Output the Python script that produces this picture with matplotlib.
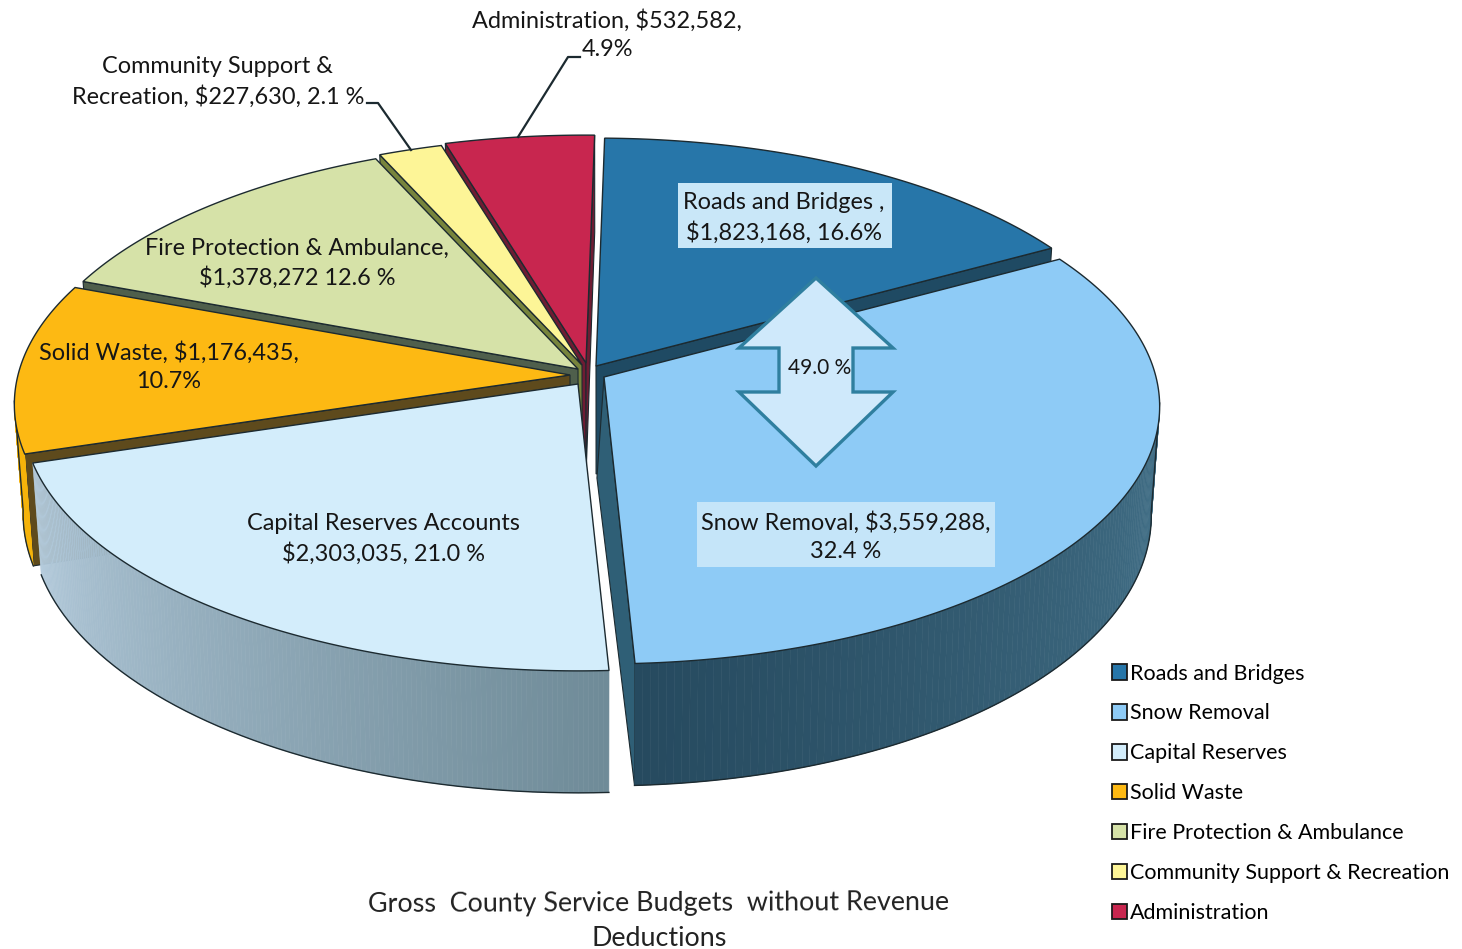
import numpy as np
import matplotlib
matplotlib.use('Agg')
import matplotlib.pyplot as plt
from matplotlib.collections import PolyCollection
from matplotlib.colors import to_rgb
from matplotlib.patches import Patch, Polygon, Rectangle

plt.rcParams['font.family'] = ['Lato', 'DejaVu Sans']

# --- Data ---
names = ["Roads and Bridges", "Snow Removal", "Capital Reserves", "Solid Waste",
         "Fire Protection & Ambulance", "Community Support & Recreation", "Administration"]
budgets = np.array([1823168, 3559288, 2303035, 1176435, 1378272, 227630, 532582])

# --- Look of the tilted pie ---
top_colors = ["#2776a9", "#8ecbf6", "#d3edfb", "#fdb913", "#d6e2a8", "#fdf597", "#c8264f"]
face_colors = ["#1f4a63", "#2f5f76", "#8ba5b5", "#5e4a1c", "#4f5f4c", "#77843c", "#6e1c33"]
wall_start = ["#1f4a63", "#44728a", "#6f8b98", "#f5b30a", "#8e9a66", "#b0a860", "#7a1c38"]
wall_end = ["#1f4a63", "#264a5f", "#b4cbdc", "#f5b30a", "#8e9a66", "#b0a860", "#7a1c38"]
apex = [(596, 366), (604, 377), (578, 384), (570, 375), (578, 369), (582, 365), (586, 363)]
inner_shift = [(0, 0), (-7, -7), (0, 0), (0, 0), (0, 0), (0, 0), (0, 0)]
draw_order = [6, 5, 4, 0, 3, 1, 2]

A, B, K = 552, 254, 0.1146   # ellipse half axes and perspective
DEPTH = 108
VANISH_X, SHRINK = 600, 0.985
START_DEG = 1.0

ink = "#1c2a30"


def top_point(theta, r, ctr):
    u, v = r * np.sin(theta), r * np.cos(theta)
    d = 1 + K * v
    return np.column_stack([ctr[0] + A * u / d, ctr[1] - B * v / d]), v


def drop(pts, v):
    x = VANISH_X + (pts[:, 0] - VANISH_X) * SHRINK
    y = pts[:, 1] + DEPTH / (1 + K * v)
    return np.column_stack([x, y])


fig = plt.figure(figsize=(14.62, 9.49), dpi=100, facecolor="white")
ax = fig.add_axes([0, 0, 1, 1])
ax.set_xlim(0, 1462)
ax.set_ylim(949, 0)
ax.axis("off")

edges = np.radians(START_DEG + 360 * np.concatenate([[0], np.cumsum(budgets)]) / budgets.sum())

for i in draw_order:
    ctr = apex[i]
    z = 2 + draw_order.index(i)
    th = np.linspace(edges[i], edges[i + 1], 160)
    rim, v = top_point(th, 1.0, ctr)
    low = drop(rim, v)
    inner_top = np.array(ctr, dtype=float)
    inner_low = drop(inner_top[None, :], np.zeros(1))[0] + np.array(inner_shift[i])

    # radial cut faces, only those turned to the viewer
    if np.sin(th[0]) < 0:
        ax.add_patch(Polygon([inner_top, rim[0], low[0], inner_low], closed=True,
                             fc=face_colors[i], ec=ink, lw=0.8, zorder=z))
    if np.sin(th[-1]) > 0:
        ax.add_patch(Polygon([inner_top, rim[-1], low[-1], inner_low], closed=True,
                             fc=face_colors[i], ec=ink, lw=0.8, zorder=z))

    # outer wall, shaded along the rim, front part only
    idx = np.where(v < -0.1)[0]
    if len(idx) > 1:
        quads = [[rim[j], rim[j + 1], low[j + 1], low[j]] for j in idx[:-1]]
        t = np.linspace(0, 1, len(quads))[:, None]
        cols = (1 - t) * np.array(to_rgb(wall_start[i])) + t * np.array(to_rgb(wall_end[i]))
        ax.add_collection(PolyCollection(quads, facecolors=cols, edgecolors=cols, linewidths=0.4,
                                         zorder=z))
        contour = low[idx]
        if idx[0] > 0:
            contour = np.vstack([rim[idx[0]], contour])
        if idx[-1] < len(th) - 1:
            contour = np.vstack([contour, rim[idx[-1]]])
        ax.plot(contour[:, 0], contour[:, 1], c=ink, lw=1.0, zorder=z)

    # top of the slice
    ax.add_patch(Polygon(np.vstack([inner_top, rim]), closed=True, fc=top_colors[i], ec=ink,
                         lw=1.0, zorder=z))

# --- Labels ---
Z = 20
FS = 16.9
ax.add_patch(Rectangle((678, 183), 214, 65, fc="#c9e7f8", ec="none", zorder=Z))
ax.add_patch(Rectangle((697, 502), 298, 65, fc="#c5e5f9", ec="none", zorder=Z))

labels = [
    (607, 35, "Administration, $532,582,\n4.9%"),
    (218, 82, "Community Support &\nRecreation, $227,630, 2.1 %"),
    (784, 218, "Roads and Bridges ,\n$1,823,168, 16.6%"),
    (297, 263, "Fire Protection & Ambulance,\n$1,378,272 12.6 %"),
    (169, 367, "Solid Waste, $1,176,435,\n10.7%"),
    (383, 539, "Capital Reserves Accounts\n$2,303,035, 21.0 %"),
    (846, 537, "Snow Removal, $3,559,288,\n32.4 %"),
]
for x, y, s in labels:
    ax.text(x, y, s, ha="center", va="center", fontsize=FS, color="#161616",
            linespacing=1.41, zorder=Z + 2)

# leader lines
ax.plot([580, 568, 518], [57, 57, 137], c=ink, lw=1.6, zorder=Z)
ax.plot([367, 378, 411], [103, 103, 150], c=ink, lw=1.6, zorder=Z)

# double arrow for roads + snow
arrow_x = [816, 893, 853, 853, 893, 816, 739, 779, 779, 739]
arrow_y = [278, 348, 348, 392, 392, 466, 392, 392, 348, 348]
ax.add_patch(Polygon(np.column_stack([arrow_x, arrow_y]), closed=True, fc="#cfe9fb",
                     ec="#2f7f9f", lw=2.4, zorder=Z))
ax.text(820, 368, "49.0 %", ha="center", va="center", fontsize=15, color="#161616", zorder=Z + 2)

# --- Legend ---
handles = [Patch(fc=c, ec="#1a1a1a", lw=1.3) for c in top_colors]
ax.legend(handles, names, loc="upper left", bbox_to_anchor=(1103 / 1462, 1 - 655 / 949),
          frameon=False, fontsize=15.5, handlelength=0.72, handleheight=0.72,
          handletextpad=0.15, labelspacing=0.923, borderpad=0.4, borderaxespad=0)

# --- Title ---
ax.text(659, 903, "Gross  County Service Budgets  without Revenue", ha="center", va="center",
        fontsize=19.4, color="#222222", rotation=0.2)
ax.text(659, 939, "Deductions", ha="center", va="center", fontsize=19.4, color="#222222")

fig.savefig("out.png", dpi=100)
